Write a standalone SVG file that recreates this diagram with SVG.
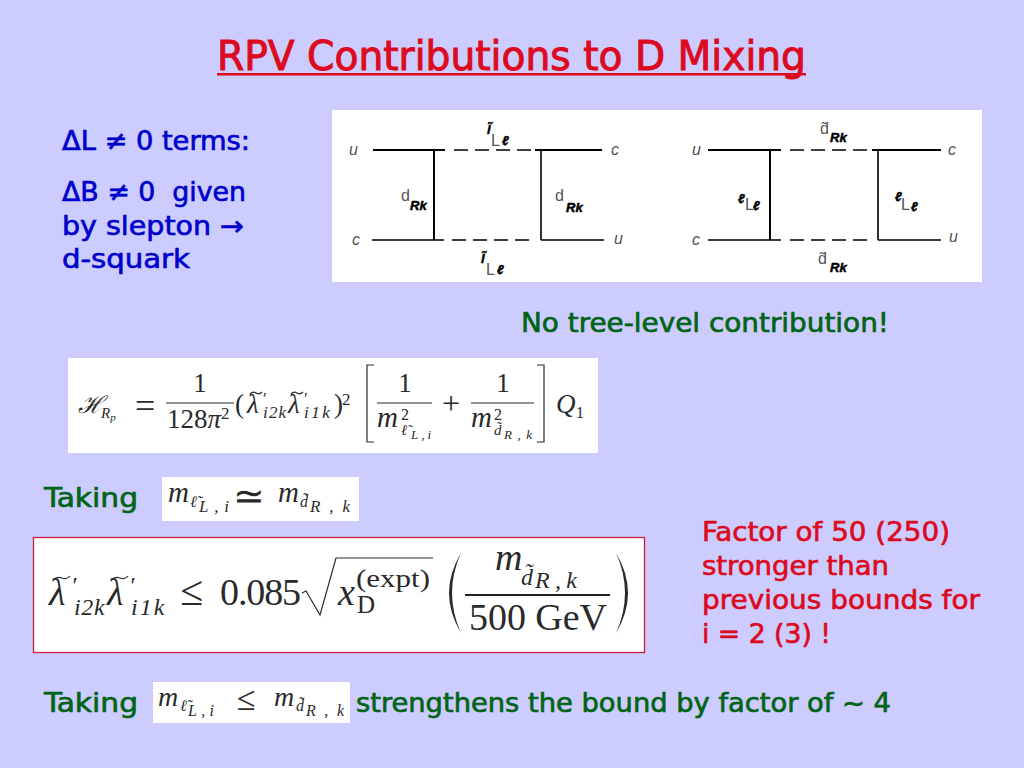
<svg xmlns="http://www.w3.org/2000/svg" width="1024" height="768" viewBox="0 0 1024 768">
<style>
.s{font-family:"DejaVu Sans Condensed","DejaVu Sans",sans-serif;font-size:27px;stroke-width:.6}
.b{fill:#0000cc;stroke:#0000cc}.g{fill:#006414;stroke:#006414}.r{fill:#dc0a1e;stroke:#dc0a1e}
.m{font-family:"Liberation Serif",serif;fill:#2a2a2a}
.i{font-style:italic}
.f{font-family:"Liberation Sans",sans-serif;font-size:16px;fill:#555}
.fi{font-style:italic}
.k{font-family:"Liberation Sans",sans-serif;font-style:italic;font-weight:bold;font-size:13px;fill:#000;stroke:#000;stroke-width:.5}
.w{fill:#fff}
.t{stroke:#000;stroke-width:2;fill:none}
.n{stroke:#000;stroke-width:1.6;fill:none}
.d{stroke:#000;stroke-width:1.7;fill:none;stroke-dasharray:14 7}
.e{stroke:#2a2a2a;stroke-width:1.2;fill:none}
</style>
<rect width="1024" height="768" fill="#ccccff"/>
<g id="title"><text x="217" y="70" class="s r" style="font-size:40px;stroke-width:.9" textLength="589" lengthAdjust="spacingAndGlyphs">RPV Contributions to D Mixing</text><rect x="217" y="73" width="589" height="2.5" fill="#dc0a1e"/></g>
<g id="left-notes" class="s b">
<text x="62" y="150" textLength="188" lengthAdjust="spacingAndGlyphs">ΔL ≠ 0 terms:</text>
<text x="62" y="201" xml:space="preserve" textLength="184" lengthAdjust="spacingAndGlyphs">ΔB ≠ 0  given</text>
<text x="62" y="235" textLength="182" lengthAdjust="spacingAndGlyphs">by slepton →</text>
<text x="62" y="268" textLength="128" lengthAdjust="spacingAndGlyphs">d-squark</text>
</g>
<g id="feynman">
<rect x="332" y="110" width="650" height="172" class="w"/>
<g id="connectors">
<path class="t" d="M373 150H445M535 150H602M434 150V240"/><path class="d" d="M454 150H535"/>
<path class="n" d="M372 240H444M541 240H604M541 150V240"/><path class="d" style="stroke-width:1.3" d="M452 240H535"/>
<path class="t" d="M708 150H781M872 150H941M770 150V240"/><path class="d" d="M790 150H872"/>
<path class="n" d="M708 240H781M878 240H941M878 150V240"/><path class="d" style="stroke-width:1.3" d="M790 240H872"/>
</g>
<g class="f fi"><text x="349" y="155">u</text><text x="611" y="155">c</text><text x="352" y="245">c</text><text x="614" y="244">u</text>
<text x="692" y="155">u</text><text x="948" y="155">c</text><text x="692" y="245">c</text><text x="949" y="242">u</text></g>
<text class="k" x="487" y="134" font-size="15">l̃</text><text class="f" x="491" y="146">L</text><text class="k" x="502" y="145">ℓ</text>
<text class="k" x="481" y="263">l̃</text><text class="f" x="486" y="275">L</text><text class="k" x="497" y="274">ℓ</text>
<text class="f" x="401" y="201">d</text><text class="k" x="410" y="210">Rk</text>
<text class="f" x="555" y="201">d</text><text class="k" x="566" y="212">Rk</text>
<text class="f" x="820" y="134">d̃</text><text class="k" x="830" y="142">Rk</text>
<text class="f" x="818" y="264">d̃</text><text class="k" x="830" y="272">Rk</text>
<text class="k" x="738" y="203">ℓ</text><text class="f" x="745" y="210">L</text><text class="k" x="753" y="210">ℓ</text>
<text class="k" x="895" y="201">ℓ</text><text class="f" x="901" y="210">L</text><text class="k" x="911" y="211">ℓ</text>
</g>
<text id="no-tree" class="s g" x="521" y="332" textLength="368" lengthAdjust="spacingAndGlyphs">No tree-level contribution!</text>
<g id="eq1">
<rect x="68" y="358" width="530" height="95" class="w"/>
<g class="m" font-size="27">
<text x="78" y="413" font-size="24" style="font-family:'DejaVu Serif',serif;font-style:italic">ℋ</text>
<text class="i" x="101" y="418" font-size="15">R<tspan font-size="11" dy="3">p</tspan></text>
<text x="135" y="418" font-size="36">=</text>
<text x="200" y="392" text-anchor="middle">1</text><path class="e" d="M166 403H234"/><text x="167" y="428">128<tspan class="i">π</tspan><tspan font-size="17" dy="-9">2</tspan></text>
<text x="235" y="413">(</text>
<text class="i" x="247" y="413">λ</text><path class="e" d="M250 394Q253 391 256 393T262 392"/><text class="i" x="262" y="404" font-size="17" letter-spacing="1.200">′<tspan x="263" y="418">i2k</tspan></text>
<text class="i" x="288" y="413">λ</text><path class="e" d="M291 394Q294 391 297 393T303 392"/><text class="i" x="303" y="404" font-size="17" letter-spacing="2.500">′<tspan x="304" y="418">i1k</tspan></text><text x="334" y="413">)</text><text x="342" y="405" font-size="17">2</text>
<path class="e" stroke-width="1.5" d="M374 365H367V442H374M537 365H544V442H537"/>
<text x="405" y="392" text-anchor="middle">1</text><path class="e" d="M377 403H432"/><text class="i" x="377" y="427" font-size="29">m</text><text x="401" y="420" font-size="16">2</text><text class="i" x="401" y="435" font-size="15">ℓ̃</text><text class="i" x="411" y="439" font-size="13" textLength="20">L,i</text>
<text x="442" y="414" font-size="32">+</text>
<text x="503" y="392" text-anchor="middle">1</text><path class="e" d="M471 403H534"/><text class="i" x="471" y="427" font-size="29">m</text><text x="494" y="420" font-size="16">2</text><text class="i" x="494" y="435" font-size="15">d̃</text><text class="i" x="504" y="439" font-size="13" textLength="28">R,k</text>
<text class="i" x="556" y="413">Q</text><text x="576" y="418" font-size="16">1</text>
</g>
</g>
<text id="taking-1" class="s g" x="44" y="507" textLength="94" lengthAdjust="spacingAndGlyphs">Taking</text>
<g id="eq2">
<rect x="162" y="477" width="197" height="44" class="w"/>
<g class="m" font-size="29">
<text class="i" x="168" y="502">m</text><text class="i" x="190" y="507" font-size="16">ℓ̃</text><text class="i" x="199" y="512" font-size="17" textLength="30">L,i</text>
<text x="233" y="509" font-size="38">≃</text>
<text class="i" x="278" y="502">m</text><text class="i" x="300" y="507" font-size="16">d̃</text><text class="i" x="310" y="512" font-size="17" textLength="40">R,k</text>
</g>
</g>
<g id="eq3">
<rect x="33.500" y="537.500" width="611" height="115" fill="#fff" stroke="#c8203c" stroke-width="1.300"/>
<g class="m" font-size="38">
<text class="i" x="49" y="605">λ</text><path class="e" stroke-width="1.600" d="M53 580Q57 576 62 578T70 576"/><text class="i" x="71" y="593" font-size="24" letter-spacing=".7">′<tspan x="74" y="615">i2k</tspan></text>
<text class="i" x="107" y="605">λ</text><path class="e" stroke-width="1.600" d="M111 580Q115 576 120 578T128 576"/><text class="i" x="129" y="593" font-size="24" letter-spacing="2">′<tspan x="131" y="615">i1k</tspan></text>
<text x="180" y="605" font-size="42">≤</text>
<text x="220" y="605" textLength="81">0.085</text>
<path class="e" stroke-width="1.800" d="M302 593L306 591L320 615L336 558H433"/>
<text class="i" x="338" y="605">x</text><text x="356" y="587" font-size="26" textLength="74" lengthAdjust="spacingAndGlyphs">(expt)</text><text x="357" y="613" font-size="25">D</text>
<path d="M461 553Q437 593 461 633Q443 593 461 553ZM616 553Q640 593 616 633Q634 593 616 553Z" fill="#2a2a2a"/>
<text class="i" x="495" y="570">m</text><text class="i" x="521" y="585" font-size="24">d̃</text><text class="i" x="535" y="588" font-size="24" textLength="42">R,k</text>
<path d="M465 595H610" stroke="#222" stroke-width="2.200" fill="none"/>
<text x="469" y="630" textLength="138">500 GeV</text>
</g>
</g>
<g id="factor-note" class="s r">
<text x="702" y="541" textLength="248" lengthAdjust="spacingAndGlyphs">Factor of 50 (250)</text>
<text x="702" y="575" textLength="187" lengthAdjust="spacingAndGlyphs">stronger than</text>
<text x="702" y="609" textLength="278" lengthAdjust="spacingAndGlyphs">previous bounds for</text>
<text x="702" y="643" textLength="129" lengthAdjust="spacingAndGlyphs">i = 2 (3) !</text>
</g>
<text id="taking-2" class="s g" x="44" y="712" textLength="94" lengthAdjust="spacingAndGlyphs">Taking</text>
<g id="eq4">
<rect x="153" y="682" width="197" height="41" class="w"/>
<g class="m" font-size="28">
<text class="i" x="158" y="706">m</text><text class="i" x="180" y="711" font-size="16">ℓ̃</text><text class="i" x="188" y="716" font-size="16" textLength="26">L,i</text>
<text x="237" y="710" font-size="34">≤</text>
<text class="i" x="274" y="706">m</text><text class="i" x="296" y="711" font-size="16">d̃</text><text class="i" x="306" y="716" font-size="16" textLength="38">R,k</text>
</g>
</g>
<text id="strengthens" class="s g" x="356" y="712" textLength="535" lengthAdjust="spacingAndGlyphs">strengthens the bound by factor of ~ 4</text>
</svg>
